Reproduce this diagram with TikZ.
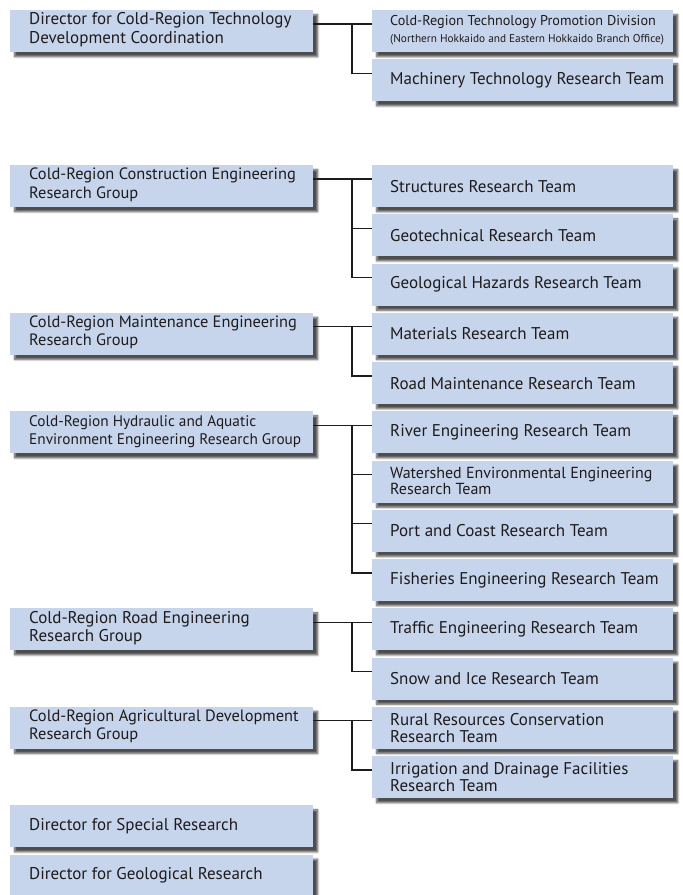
\documentclass[tikz,border=0pt]{standalone}
\usepackage{fontspec}
\setmainfont{PT Sans}
\usetikzlibrary{shadows.blur}
\definecolor{boxblue}{RGB}{199,213,236}
\definecolor{ink}{RGB}{30,27,28}
\begin{document}
\begin{tikzpicture}[x=1pt, y=-1pt,
  box/.style={fill=boxblue, anchor=north west, minimum height=42pt, inner sep=0pt,
    blur shadow={shadow xshift=4.5pt, shadow yshift=-4.5pt, shadow blur steps=6, shadow opacity=70}},
  grp/.style={box, minimum width=303pt},
  team/.style={box, minimum width=301pt},
  txt/.style={anchor=west, align=left, inner sep=0pt, text=ink, font=\fontsize{17}{18.5}\selectfont},
  narrow/.style={font=\fontsize{16.4}{18.5}\selectfont},
  link/.style={draw=ink, line width=1.1pt}]
\useasboundingbox (0,0) rectangle (683,895);
% left column
\node[grp] (dir) at (10,10) {};
\node[grp] (cons) at (10,165) {};
\node[grp] (mnt) at (10,312.75) {};
\node[grp] (hyd) at (10,411.25) {};
\node[grp] (rde) at (10,608.25) {};
\node[grp] (agr) at (10,706.75) {};
\node[grp] (spc) at (10,805.25) {};
\node[grp] (geo) at (10,854.5) {};
% right column
\node[team] (promo) at (372,10) {};
\node[team] (mach) at (372,59.25) {};
\node[team] (str) at (372,165) {};
\node[team] (geot) at (372,214.25) {};
\node[team] (gha) at (372,263.5) {};
\node[team] (mat) at (372,312.75) {};
\node[team] (road) at (372,362) {};
\node[team] (riv) at (372,411.25) {};
\node[team] (wsh) at (372,460.5) {};
\node[team] (port) at (372,509.75) {};
\node[team] (fish) at (372,559) {};
\node[team] (trf) at (372,608.25) {};
\node[team] (snow) at (372,657.5) {};
\node[team] (rural) at (372,706.75) {};
\node[team] (irr) at (372,756) {};
% labels
\node[txt] (dirT) at ([xshift=19pt,yshift=1.5pt]dir.west) {Director for Cold-Region Technology\\Development Coordination};
\node[txt, narrow] (consT) at ([xshift=19pt,yshift=1.5pt]cons.west) {Cold-Region Construction Engineering\\Research Group};
\node[txt, narrow] (mntT) at ([xshift=19pt,yshift=1.5pt]mnt.west) {Cold-Region Maintenance Engineering\\Research Group};
\node[txt, font=\fontsize{15.3}{18.5}\selectfont] (hydT) at ([xshift=19pt,yshift=1pt]hyd.west) {Cold-Region Hydraulic and Aquatic\\Environment Engineering Research Group};
\node[txt] (rdeT) at ([xshift=19pt,yshift=1.5pt]rde.west) {Cold-Region Road Engineering\\Research Group};
\node[txt, narrow] (agrT) at ([xshift=19pt,yshift=1.5pt]agr.west) {Cold-Region Agricultural Development\\Research Group};
\node[txt] (spcT) at ([xshift=19pt]spc.west) {Director for Special Research};
\node[txt] (geoT) at ([xshift=19pt]geo.west) {Director for Geological Research};
\node[txt, font=\fontsize{14.2}{16.5}\selectfont] (promoT) at ([xshift=18pt,yshift=1pt]promo.west) {Cold-Region Technology Promotion Division\\{\fontsize{11.3}{12}\selectfont(Northern Hokkaido and Eastern Hokkaido Branch Office)}};
\node[txt] (machT) at ([xshift=18pt]mach.west) {Machinery Technology Research Team};
\node[txt] (strT) at ([xshift=18pt]str.west) {Structures Research Team};
\node[txt] (geotT) at ([xshift=18pt]geot.west) {Geotechnical Research Team};
\node[txt] (ghaT) at ([xshift=18pt]gha.west) {Geological Hazards Research Team};
\node[txt] (matT) at ([xshift=18pt]mat.west) {Materials Research Team};
\node[txt] (roadT) at ([xshift=18pt]road.west) {Road Maintenance Research Team};
\node[txt] (rivT) at ([xshift=18pt]riv.west) {River Engineering Research Team};
\node[txt, font=\fontsize{16}{15.5}\selectfont] (wshT) at ([xshift=18pt,yshift=1pt]wsh.west) {Watershed Environmental Engineering\\Research Team};
\node[txt] (portT) at ([xshift=18pt]port.west) {Port and Coast Research Team};
\node[txt] (fishT) at ([xshift=18pt]fish.west) {Fisheries Engineering Research Team};
\node[txt] (trfT) at ([xshift=18pt]trf.west) {Traffic Engineering Research Team};
\node[txt] (snowT) at ([xshift=18pt]snow.west) {Snow and Ice Research Team};
\node[txt, font=\fontsize{17}{17}\selectfont] (ruralT) at ([xshift=18pt]rural.west) {Rural Resources Conservation\\Research Team};
\node[txt, font=\fontsize{17}{17}\selectfont] (irrT) at ([xshift=18pt]irr.west) {Irrigation and Drainage Facilities\\Research Team};
% connectors
\draw[link] ([yshift=-14pt]dir.north east) -- ([yshift=-14pt]promo.north west);
\draw[link] ([xshift=-20pt,yshift=-14pt]promo.north west) |- ([yshift=-14pt]mach.north west);
\draw[link] ([yshift=-14pt]cons.north east) -- ([yshift=-14pt]str.north west);
\draw[link] ([xshift=-20pt,yshift=-14pt]str.north west) |- ([yshift=-14pt]gha.north west);
\draw[link] ([xshift=-20pt,yshift=-14pt]geot.north west) -- ([yshift=-14pt]geot.north west);
\draw[link] ([yshift=-14pt]mnt.north east) -- ([yshift=-14pt]mat.north west);
\draw[link] ([xshift=-20pt,yshift=-14pt]mat.north west) |- ([yshift=-14pt]road.north west);
\draw[link] ([yshift=-14pt]hyd.north east) -- ([yshift=-14pt]riv.north west);
\draw[link] ([xshift=-20pt,yshift=-14pt]riv.north west) |- ([yshift=-14pt]fish.north west);
\draw[link] ([xshift=-20pt,yshift=-14pt]wsh.north west) -- ([yshift=-14pt]wsh.north west);
\draw[link] ([xshift=-20pt,yshift=-14pt]port.north west) -- ([yshift=-14pt]port.north west);
\draw[link] ([yshift=-14pt]rde.north east) -- ([yshift=-14pt]trf.north west);
\draw[link] ([xshift=-20pt,yshift=-14pt]trf.north west) |- ([yshift=-14pt]snow.north west);
\draw[link] ([yshift=-14pt]agr.north east) -- ([yshift=-14pt]rural.north west);
\draw[link] ([xshift=-20pt,yshift=-14pt]rural.north west) |- ([yshift=-14pt]irr.north west);
\end{tikzpicture}
\end{document}
